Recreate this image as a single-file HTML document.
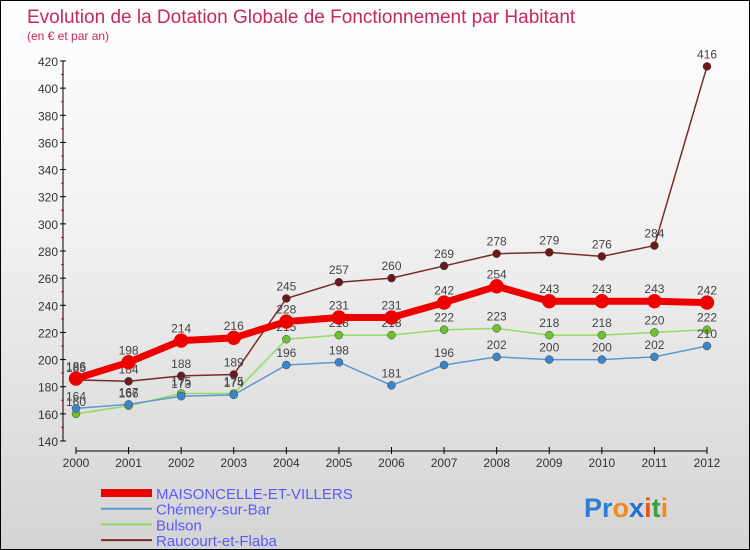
<!DOCTYPE html>
<html><head><meta charset="utf-8"><style>
body{margin:0}
#c{width:750px;height:550px;position:relative;box-sizing:border-box;border:1px solid #000;background:linear-gradient(#fff,#f2f2f2 40%,#d4d4d4);font-family:"Liberation Sans",sans-serif;overflow:hidden}
</style></head><body>
<div id="c">
<svg id="s" width="750" height="550" style="position:absolute;left:0;top:0">
<text x="26" y="22" font-size="19" fill="#c8285a">Evolution de la Dotation Globale de Fonctionnement par Habitant</text>
<text x="26" y="39" font-size="12" fill="#c8285a">(en € et par an)</text>
<g id="axes"></g><g id="series"></g><g id="legend"></g>
<text x="583" y="516" font-size="27" font-weight="bold"><tspan fill="#2a7fd4">Pr</tspan><tspan fill="#f08a1c">o</tspan><tspan fill="#1e6fd0">x</tspan><tspan fill="#e8521c">i</tspan><tspan fill="#3aa040">t</tspan><tspan fill="#f08a1c">i</tspan></text>
</svg>
</div>
<script>
const years=[2000,2001,2002,2003,2004,2005,2006,2007,2008,2009,2010,2011,2012];
const yTicks=[140,160,180,200,220,240,260,280,300,320,340,360,380,400,420];
const maison=[186,198,214,216,228,231,231,242,254,243,243,243,242];
const chemery=[164,167,173,174,196,198,181,196,202,200,200,202,210];
const bulson=[160,166,175,175,215,218,218,222,223,218,218,220,222];
const raucourt=[185,184,188,189,245,257,260,269,278,279,276,284,416];
const names=["MAISONCELLE-ET-VILLERS","Chémery-sur-Bar","Bulson","Raucourt-et-Flaba"];
const NS="http://www.w3.org/2000/svg";
const X=i=>75+i*(706-75)/(years.length-1);
const Y=v=>440-(v-140)*380/280;
function mk(tag,at,parent,txt){const e=document.createElementNS(NS,tag);for(const k in at)e.setAttribute(k,at[k]);if(txt!==undefined)e.textContent=txt;parent.appendChild(e);return e;}
const ax=document.getElementById('axes');
let e=mk('line',{x1:62,y1:60,x2:62,y2:440,stroke:'#000'},ax);

yTicks.forEach((t,i)=>{
 mk('line',{x1:59,y1:Y(t),x2:65,y2:Y(t),stroke:'#000'},ax);
 if(i<yTicks.length-1)mk('line',{x1:60,y1:Y(t+10),x2:63,y2:Y(t+10),stroke:'#e00'},ax);
 const l=mk('text',{x:57,y:Y(t)+5,'font-size':12,fill:'#333','text-anchor':'end'},ax,t);
 
});
e=mk('line',{x1:75,y1:450,x2:706,y2:450,stroke:'#000'},ax);

years.forEach((y,i)=>{
 mk('line',{x1:X(i),y1:446,x2:X(i),y2:453,stroke:'#000'},ax);
 const l=mk('text',{x:X(i),y:466,'font-size':12,fill:'#333','text-anchor':'middle'},ax,y);
 
});
const sg=document.getElementById('series');
const defs=[[raucourt,'#7a2a2a','#6a1a1a',1.5,4],[bulson,'#90dc60','#70c030',1.5,4],[chemery,'#5a9ad0','#3a86cc',1.5,4],[maison,'#ee0000','#ee0000',7,7]];
const sn=['raucourt','bulson','chemery','maisoncelle'];
defs.forEach((d,k)=>{
 const [vals,col,dot,w,r]=d;
 const g=mk('g',{},sg);
 
 mk('polyline',{points:vals.map((v,i)=>X(i)+','+Y(v)).join(' '),fill:'none',stroke:col,'stroke-width':w,'stroke-linejoin':'round'},g);
 vals.forEach((v,i)=>{
  const c=mk('circle',{cx:X(i),cy:Y(v),r:r,fill:dot,stroke:k==3?'#ee0000':'#444','stroke-width':0.5},g);
  
  const t=mk('text',{x:X(i),y:Y(v)-8,'font-size':12,fill:'#444','text-anchor':'middle'},g,v);
  
 });
});
const lg=document.getElementById('legend');
const lc=['#ee0000','#5a9ad0','#90dc60','#7a2a2a'],lw=[8,2,2,2];
names.forEach((n,i)=>{
 const y=492+i*15.7;
 const g=mk('g',{},lg);
 
 mk('line',{x1:100,y1:y,x2:151,y2:y,stroke:lc[i],'stroke-width':lw[i]},g);
 mk('text',{x:155,y:y+6,'font-size':15,fill:'#5a5aff'},g,n);
});
</script>
</body></html>
